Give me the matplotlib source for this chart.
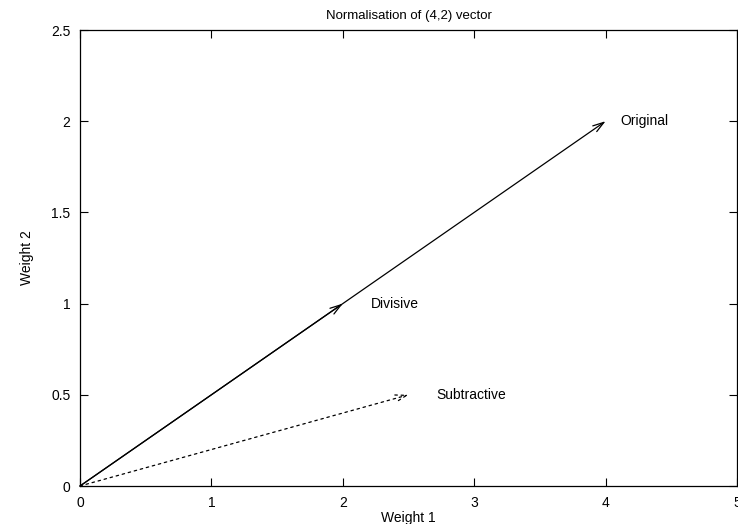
#! /usr/bin/env python3

import matplotlib
matplotlib.use("Agg")
import matplotlib.pyplot as plt

plt.rcParams["font.family"] = ["Liberation Sans", "DejaVu Sans"]
plt.rcParams["font.size"] = 10

# vectors: name, end point, label position
names = ["Original", "Divisive", "Subtractive"]
ends_x = [4.0, 2.0, 2.5]
ends_y = [2.0, 1.0, 0.5]
label_x = [4.11, 2.21, 2.71]
styles = ["-", "-", (0, (2, 3))]

xticks = [0, 1, 2, 3, 4, 5]
yticks = [0, 0.5, 1, 1.5, 2, 2.5]
xtick_labels = ["0", "1", "2", "3", "4", "5"]
ytick_labels = ["0", "0.5", "1", "1.5", "2", "2.5"]

fig = plt.figure( figsize=(7.38, 5.24), dpi=100 )
ax = fig.add_axes( [80/738, 38/524, 657/738, 456/524] )

for name, ex, ey, lx, ls in zip( names, ends_x, ends_y, label_x, styles ):
    ax.annotate( "", xy=(ex, ey), xytext=(0, 0),
                 arrowprops=dict( arrowstyle="->,head_length=0.8,head_width=0.25",
                                  color="black", lw=0.9, linestyle=ls,
                                  shrinkA=0, shrinkB=0 ) )
    ax.text( lx, ey, name, ha="left", va="center" )

ax.set_xlim( 0, 5 )
ax.set_ylim( 0, 2.5 )
ax.set_xticks( xticks )
ax.set_xticklabels( xtick_labels )
ax.set_yticks( yticks )
ax.set_yticklabels( ytick_labels )
ax.tick_params( direction="in", length=6, width=0.8, top=True, right=True, pad=7 )
for spine in ax.spines.values():
    spine.set_linewidth( 0.9 )

ax.set_title( "Normalisation of (4,2) vector", fontsize=9.5, pad=8 )
ax.set_xlabel( "Weight 1", labelpad=1 )
ax.set_ylabel( "Weight 2", labelpad=12 )

fig.savefig( "out.png", dpi=100 )
